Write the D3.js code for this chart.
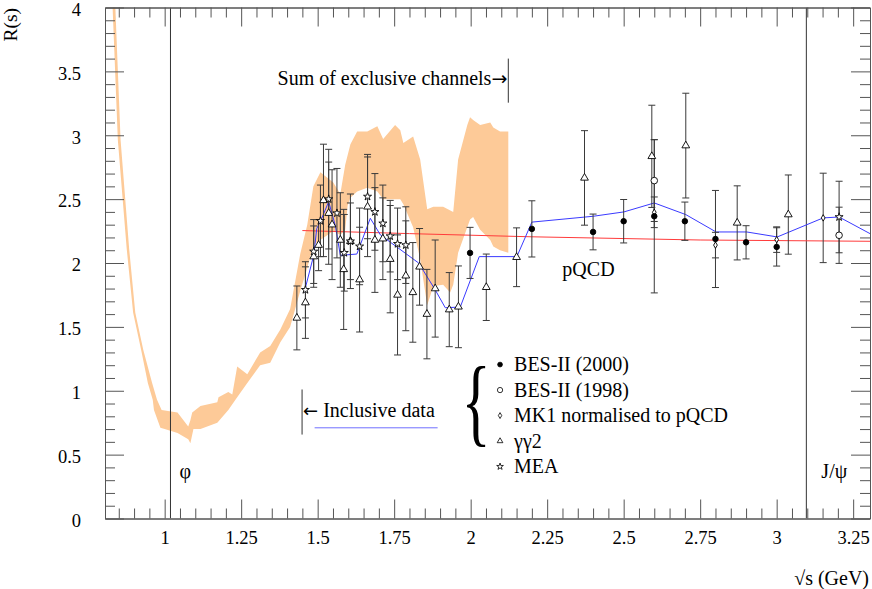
<!DOCTYPE html>
<html>
<head>
<meta charset="utf-8">
<script src="https://cdn.jsdelivr.net/npm/d3@7"></script>
<style>
    body { margin: 0; background: #fff; }
    text { font-family: "Liberation Serif", "Times New Roman", serif; fill: #000; }
    .arrow { font-family: "DejaVu Sans", sans-serif; }
</style>
</head>
<body>
<svg id="figure" width="872" height="589"></svg>
<script>
// ---- data ----
const xMajorTicks = [1, 1.25, 1.5, 1.75, 2, 2.25, 2.5, 2.75, 3, 3.25];
const yMajorTicks = [0, 0.5, 1, 1.5, 2, 2.5, 3, 3.5, 4];

// sum of exclusive channels: upper and lower edge of the band
const bandHiX = [0.838,0.856,0.884,0.904,0.930,0.959,0.975,0.990,1.042,1.077,1.084,1.090,1.117,1.172,1.176,1.208,1.221,1.237,1.270,1.312,1.345,1.378,1.410,1.443,1.466,1.486,1.509,1.551,1.574,1.590,1.607,1.629,1.662,1.695,1.714,1.753,1.770,1.780,1.812,1.835,1.858,1.878,1.910,1.943,1.959,1.989,1.998,2.008,2.031,2.064,2.074,2.096,2.123];
const bandHiR = [4.05,2.96,2.11,1.61,1.32,1.06,0.93,0.85,0.83,0.72,0.77,0.83,0.88,0.91,0.95,0.99,0.97,1.19,1.13,1.30,1.35,1.48,1.64,2.07,2.30,2.60,2.71,2.63,2.54,2.77,2.93,3.03,3.03,3.07,2.97,3.08,3.04,2.94,2.99,2.81,2.42,2.44,2.44,2.40,2.81,3.08,3.14,3.12,3.08,3.10,3.06,3.03,3.03];
const bandLoX = [0.829,0.847,0.876,0.897,0.923,0.945,0.961,0.965,0.986,1.000,1.042,1.077,1.084,1.094,1.117,1.172,1.208,1.237,1.270,1.312,1.345,1.378,1.410,1.443,1.466,1.486,1.509,1.551,1.574,1.590,1.598,1.607,1.629,1.662,1.695,1.714,1.753,1.770,1.780,1.812,1.835,1.858,1.878,1.910,1.933,1.943,1.959,1.989,1.998,2.008,2.031,2.064,2.074,2.096,2.123];
const bandLoR = [4.05,2.96,2.11,1.61,1.32,1.06,0.93,0.85,0.71,0.70,0.67,0.62,0.59,0.70,0.70,0.75,0.85,0.95,1.06,1.20,1.22,1.38,1.50,1.78,1.96,2.14,2.18,2.25,2.22,2.26,2.45,2.51,2.56,2.59,2.56,2.50,2.50,2.50,2.46,2.28,2.03,1.67,1.82,1.83,1.77,1.83,2.08,2.28,2.34,2.36,2.26,2.18,2.13,2.10,2.08];

// inclusive data (blue line)
const inclX = [1.456,1.487,1.497,1.510,1.536,1.558,1.574,1.628,1.672,1.705,1.830,1.884,1.917,1.966,2.028,2.151,2.200,2.401,2.501,2.600,2.703,2.802,2.902,3.002,3.152,3.204,3.305];
const inclR = [1.77,2.06,2.27,2.33,2.48,2.29,2.06,2.07,2.35,2.22,2.00,1.79,1.65,1.655,2.05,2.05,2.32,2.366,2.40,2.47,2.379,2.243,2.243,2.204,2.353,2.36,2.23];

// pQCD (red line)
const pqcdX = [1.45, 1.8, 2.2, 2.75, 3.305];
const pqcdR = [2.254, 2.23, 2.205, 2.18, 2.17];

// BES-II (2000)
const bes00X = [1.998,2.200,2.400,2.500,2.600,2.700,2.800,2.900,3.000];
const bes00R = [2.079,2.267,2.243,2.327,2.366,2.327,2.188,2.162,2.126];
const bes00Err = [0.20,0.22,0.14,0.17,0.60,0.15,0.38,0.13,0.15];

// BES-II (1998)
const bes98X = [2.600, 3.204];
const bes98R = [2.645, 2.217];
const bes98Err = [0.32, 0.22];

// MK1 normalised to pQCD
const mk1X = [2.600, 2.800, 3.000, 3.152];
const mk1R = [2.397, 2.140, 2.183, 2.353];
const mk1Err = [0.12, 0.10, 0.10, 0.35];

// gamma gamma 2
const gg2X = [1.432,1.460,1.487,1.503,1.519,1.536,1.547,1.574,1.585,1.607,1.637,1.663,1.687,1.713,1.737,1.761,1.788,1.811,1.833,1.857,1.884,1.930,1.960,2.051,2.150,2.372,2.592,2.703,2.871,3.038];
const gg2R = [1.57,1.69,2.05,2.14,2.49,2.39,2.30,2.18,1.95,2.17,1.87,2.44,2.18,2.19,2.03,1.75,1.90,1.77,1.97,1.60,1.80,1.635,1.657,1.81,2.045,2.666,2.835,2.919,2.314,2.379];
const gg2Err = [0.25,0.28,0.24,0.20,0.44,0.40,0.43,0.37,0.47,0.37,0.41,0.39,0.41,0.32,0.42,0.47,0.43,0.39,0.30,0.35,0.38,0.29,0.32,0.26,0.23,0.37,0.40,0.41,0.29,0.31];

// MEA
const meaX = [1.460,1.487,1.509,1.536,1.563,1.587,1.607,1.637,1.663,1.687,1.713,1.737,1.761,1.788,3.204];
const meaR = [1.79,2.09,2.33,2.50,2.39,2.08,2.17,2.13,2.52,2.40,2.31,2.21,2.15,2.14,2.36];
const meaErr = [0.22,0.25,0.28,0.39,0.35,0.30,0.30,0.30,0.33,0.30,0.30,0.28,0.28,0.30,0.28];

const resonances = [{name: "φ", x: 1.019}, {name: "J/ψ", x: 3.097}];

const legendNames = ["BES-II (2000)", "BES-II (1998)", "MK1 normalised to pQCD", "γγ2", "MEA"];

// ---- layout ----
const margin = {top: 7.5, right: 2, bottom: 70.5, left: 105};
const width = 872 - margin.left - margin.right;
const height = 589 - margin.top - margin.bottom;

const svg = d3.select("#figure")
    .append("g")
    .attr("transform", "translate(" + margin.left + "," + margin.top + ")");

const x = d3.scaleLinear().domain([0.805, 3.305]).range([0, width]);
const y = d3.scaleLinear().domain([0, 4]).range([height, 0]);

svg.append("clipPath").attr("id", "clip")
    .append("rect").attr("width", width).attr("height", height);

const plot = svg.append("g").attr("clip-path", "url(#clip)");

// band
const zip = (xs, ys) => xs.map((v, i) => [v, ys[i]]);
const bandPts = zip(bandHiX, bandHiR).concat(zip(bandLoX, bandLoR).reverse());
plot.append("path")
    .attr("d", d3.line().x(d => x(d[0])).y(d => y(d[1]))(bandPts) + "Z")
    .attr("fill", "#fdca98")
    .attr("stroke", "none");

// resonance lines
plot.selectAll("line.res")
    .data(resonances)
    .enter().append("line")
    .attr("class", "res")
    .attr("x1", d => x(d.x)).attr("x2", d => x(d.x))
    .attr("y1", 0).attr("y2", height)
    .attr("stroke", "#333").attr("stroke-width", 1);

// pQCD and inclusive lines
plot.append("path")
    .attr("d", d3.line().x(d => x(d[0])).y(d => y(d[1]))(zip(pqcdX, pqcdR)))
    .attr("fill", "none").attr("stroke", "#ff3b3b").attr("stroke-width", 1);

plot.append("path")
    .attr("d", d3.line().x(d => x(d[0])).y(d => y(d[1]))(zip(inclX, inclR)))
    .attr("fill", "none").attr("stroke", "#3a3aff").attr("stroke-width", 1);

// data sets with error bars
const sets = [
    {xs: gg2X, rs: gg2R, es: gg2Err, type: d3.symbolTriangle, size: 26, fill: "#fff"},
    {xs: meaX, rs: meaR, es: meaErr, type: d3.symbolStar, size: 20, fill: "#fff"},
    {xs: mk1X, rs: mk1R, es: mk1Err, type: d3.symbolDiamond, size: 12, fill: "#fff"},
    {xs: bes98X, rs: bes98R, es: bes98Err, type: d3.symbolCircle, size: 34, fill: "#fff"},
    {xs: bes00X, rs: bes00R, es: bes00Err, type: d3.symbolCircle, size: 24, fill: "#000"}
];

const cap = 3.5;
sets.forEach(s => {
    const pts = s.xs.map((v, i) => ({x: v, r: s.rs[i], e: s.es[i]}));
    const g = plot.append("g");
    const bars = g.selectAll("g.err").data(pts).enter().append("g")
        .attr("stroke", "#3a3a3a").attr("stroke-width", 1);
    bars.append("line")
        .attr("x1", d => x(d.x)).attr("x2", d => x(d.x))
        .attr("y1", d => y(d.r + d.e)).attr("y2", d => y(d.r - d.e));
    bars.append("line")
        .attr("x1", d => x(d.x) - cap).attr("x2", d => x(d.x) + cap)
        .attr("y1", d => y(d.r + d.e)).attr("y2", d => y(d.r + d.e));
    bars.append("line")
        .attr("x1", d => x(d.x) - cap).attr("x2", d => x(d.x) + cap)
        .attr("y1", d => y(d.r - d.e)).attr("y2", d => y(d.r - d.e));
    s.pts = pts;
});
sets.forEach(s => {
    plot.append("g").selectAll("path").data(s.pts).enter().append("path")
        .attr("d", d3.symbol().type(s.type).size(s.size))
        .attr("transform", d => "translate(" + x(d.x) + "," + y(d.r) + ")")
        .attr("fill", s.fill).attr("stroke", "#000").attr("stroke-width", 0.9);
});

// ---- axes ----
const xMinor = d3.range(0.85, 3.3, 0.05).map(v => +v.toFixed(2)).filter(v => Math.abs(v * 4 - Math.round(v * 4)) > 1e-6);
const yMinor = d3.range(0.1, 4, 0.1).map(v => +v.toFixed(1)).filter(v => Math.abs(v * 2 - Math.round(v * 2)) > 1e-6);
const axisColor = "#555";

function drawAxis(axisFn, pos, transform, major, minor, labels) {
    const gMaj = svg.append("g").attr("transform", transform)
        .call(axisFn(pos).tickValues(major).tickSize(-19).tickSizeOuter(0)
            .tickPadding(labels ? (axisFn === d3.axisBottom ? 12 : 24) : 0)
            .tickFormat(labels ? d => String(d) : ""));
    svg.append("g").attr("transform", transform)
        .call(axisFn(pos).tickValues(minor).tickSize(-10).tickSizeOuter(0).tickFormat(""));
    return gMaj;
}

drawAxis(d3.axisBottom, x, "translate(0," + height + ")", xMajorTicks, xMinor, true);
drawAxis(d3.axisTop, x, "translate(0,0)", xMajorTicks, xMinor, false);
const yAxisG = drawAxis(d3.axisLeft, y, "translate(0,0)", yMajorTicks, yMinor, true);
yAxisG.selectAll("text").attr("dy", "0.42em");

svg.selectAll(".domain, .tick line").attr("stroke", axisColor);
svg.selectAll(".tick text")
    .attr("fill", "#000")
    .style("font-family", "'Liberation Serif', serif")
    .style("font-size", "18.5px");

drawAxis(d3.axisRight, y, "translate(" + width + ",0)", yMajorTicks, yMinor, false);
svg.selectAll(".domain, .tick line").attr("stroke", axisColor);

// axis titles
svg.append("text")
    .attr("transform", "translate(" + (17 - margin.left) + "," + (8 - margin.top) + ") rotate(-90)")
    .attr("text-anchor", "end")
    .style("font-size", "19.5px")
    .text("R(s)");

svg.append("text")
    .attr("x", width - 1).attr("y", 585 - margin.top)
    .attr("text-anchor", "end")
    .style("font-size", "20px")
    .text("√s (GeV)");

// resonance labels
svg.selectAll("text.res")
    .data(resonances)
    .enter().append("text")
    .attr("class", "res")
    .attr("x", (d, i) => i === 0 ? x(d.x) + 9 : x(d.x) + 15)
    .attr("y", y(0.32))
    .style("font-size", "20px")
    .text(d => d.name);

// annotations
const sumText = svg.append("text")
    .attr("x", x(2.123) - 1).attr("y", y(3.4) + 1)
    .attr("text-anchor", "end")
    .style("font-size", "20px");
sumText.append("tspan").text("Sum of exclusive channels");
sumText.append("tspan").attr("class", "arrow").style("font-size", "19px").text("→");
svg.append("line")
    .attr("x1", x(2.123)).attr("x2", x(2.123))
    .attr("y1", y(3.6)).attr("y2", y(3.255))
    .attr("stroke", "#333");

svg.append("text")
    .attr("x", x(2.385)).attr("y", y(1.9))
    .attr("text-anchor", "middle")
    .style("font-size", "20px")
    .text("pQCD");

svg.append("line")
    .attr("x1", x(1.449)).attr("x2", x(1.449))
    .attr("y1", y(1.01)).attr("y2", y(0.657))
    .attr("stroke", "#333");
const inclText = svg.append("text")
    .attr("x", x(1.449) + 1).attr("y", y(0.80) + 1)
    .style("font-size", "20px");
inclText.append("tspan").attr("class", "arrow").style("font-size", "18px").text("←");
inclText.append("tspan").attr("dx", 5).text("Inclusive data");
svg.append("line")
    .attr("x1", x(1.49)).attr("x2", x(1.892))
    .attr("y1", y(0.71)).attr("y2", y(0.71))
    .attr("stroke", "#6f6fff").attr("stroke-width", 1);

// legend
const lx = x(2.096), ly0 = y(1.205), lstep = 25.5;
svg.append("text")
    .attr("transform", "translate(" + (lx - 24) + "," + (ly0 + 69) + ") scale(0.62,1)")
    .attr("text-anchor", "middle")
    .style("font-size", "98px")
    .text("{");

const legendSyms = [
    {type: d3.symbolCircle, size: 18, fill: "#000"},
    {type: d3.symbolCircle, size: 22, fill: "#fff"},
    {type: d3.symbolDiamond, size: 10, fill: "#fff"},
    {type: d3.symbolTriangle, size: 14, fill: "#fff"},
    {type: d3.symbolStar, size: 14, fill: "#fff"}
];
const leg = svg.selectAll("g.leg")
    .data(legendNames)
    .enter().append("g")
    .attr("class", "leg")
    .attr("transform", (d, i) => "translate(" + lx + "," + (ly0 + i * lstep) + ")");
leg.append("path")
    .attr("d", (d, i) => d3.symbol().type(legendSyms[i].type).size(legendSyms[i].size)())
    .attr("fill", (d, i) => legendSyms[i].fill)
    .attr("stroke", "#000").attr("stroke-width", 0.8);
leg.append("text")
    .attr("x", 14).attr("y", 6.5)
    .style("font-size", "20px")
    .text(d => d);
</script>
</body>
</html>
